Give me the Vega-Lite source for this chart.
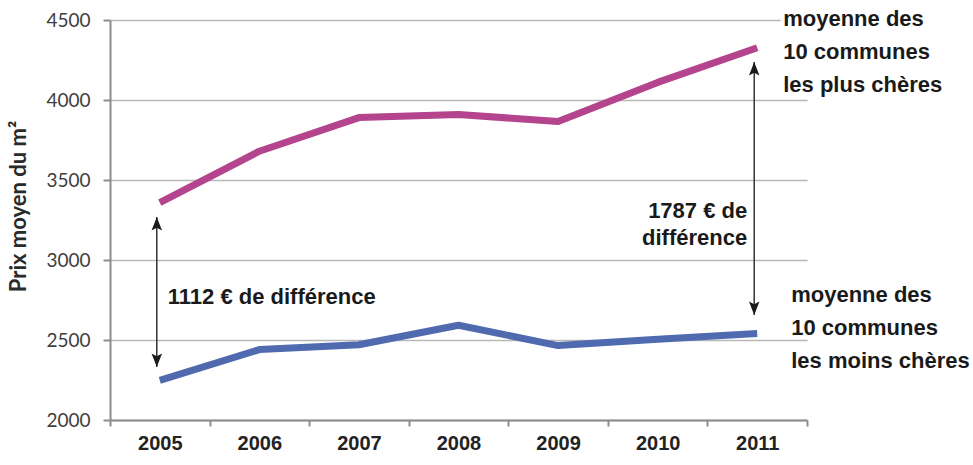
{
  "$schema": "https://vega.github.io/schema/vega-lite/v6.json",
  "width": 697,
  "height": 400,
  "autosize": "none",
  "padding": {"left": 110, "top": 20, "right": 166, "bottom": 45},
  "background": "white",
  "config": {
    "view": {"stroke": null},
    "text": {"font": "Liberation Sans", "fontWeight": "bold", "color": "#1a1a1a"}
  },
  "datasets": {
    "prix": [
      {"annee": "2005", "serie": "plus", "prix": 3358},
      {"annee": "2006", "serie": "plus", "prix": 3680},
      {"annee": "2007", "serie": "plus", "prix": 3890},
      {"annee": "2008", "serie": "plus", "prix": 3910},
      {"annee": "2009", "serie": "plus", "prix": 3865},
      {"annee": "2010", "serie": "plus", "prix": 4110},
      {"annee": "2011", "serie": "plus", "prix": 4327},
      {"annee": "2005", "serie": "moins", "prix": 2248},
      {"annee": "2006", "serie": "moins", "prix": 2440},
      {"annee": "2007", "serie": "moins", "prix": 2470},
      {"annee": "2008", "serie": "moins", "prix": 2592},
      {"annee": "2009", "serie": "moins", "prix": 2465},
      {"annee": "2010", "serie": "moins", "prix": 2505},
      {"annee": "2011", "serie": "moins", "prix": 2540}
    ],
    "fleches": [
      {"annee": "2005", "haut": 3269, "bas": 2331},
      {"annee": "2011", "haut": 4238, "bas": 2656}
    ],
    "notes": [
      {"annee": "2005", "prix": 2804, "texte": "1112 € de différence"},
      {"annee": "2011", "prix": 3433, "texte": "1787 € de\ndifférence"}
    ],
    "legendes": [
      {"annee": "2011", "serie": "plus", "prix": 4327, "texte": "moyenne des\n10 communes\nles plus chères"},
      {"annee": "2011", "serie": "moins", "prix": 2540, "texte": "moyenne des\n10 communes\nles moins chères"}
    ]
  },
  "encoding": {
    "x": {
      "field": "annee", "type": "ordinal",
      "scale": {"type": "band", "paddingInner": 0, "paddingOuter": 0},
      "axis": {
        "title": null, "labelAngle": 0, "tickBand": "extent", "grid": false,
        "domainColor": "#8c8c8c", "domainWidth": 2, "tickColor": "#8c8c8c", "tickWidth": 2, "tickSize": 6,
        "labelFont": "Liberation Sans", "labelFontWeight": "bold", "labelFontSize": 20, "labelColor": "#222222",
        "labelPadding": 7
      }
    },
    "y": {
      "type": "quantitative",
      "scale": {"domain": [2000, 4500], "nice": false, "zero": false},
      "axis": {
        "title": "Prix moyen du m²", "values": [2000, 2500, 3000, 3500, 4000, 4500], "format": "d",
        "titleFont": "Lato", "titleFontWeight": "bold", "titleFontSize": 22, "titleColor": "#2a2a2a",
        "titleX": -92, "titleY": 186, "titleAngle": -90, "titleBaseline": "middle",
        "labelFont": "Lato", "labelFontSize": 19, "labelColor": "#404040", "labelPadding": 13,
        "domainColor": "#8c8c8c", "domainWidth": 2, "tickColor": "#8c8c8c", "tickWidth": 2, "tickSize": 7,
        "gridColor": "#b8b8b8", "gridWidth": 1.5
      }
    }
  },
  "layer": [
    {
      "data": {"name": "prix"},
      "mark": {"type": "line", "strokeWidth": 7, "strokeCap": "butt", "strokeJoin": "round"},
      "encoding": {
        "y": {"field": "prix", "type": "quantitative"},
        "color": {"field": "serie", "type": "nominal", "scale": {"domain": ["plus", "moins"], "range": ["#B3448D", "#4F6AAE"]}, "legend": null}
      }
    },
    {
      "data": {"name": "fleches"},
      "mark": {"type": "rule", "color": "#333333", "strokeWidth": 1.5, "xOffset": -3},
      "encoding": {
        "y": {"field": "haut", "type": "quantitative"},
        "y2": {"field": "bas"}
      }
    },
    {
      "data": {"name": "fleches"},
      "mark": {"type": "point", "filled": true, "color": "#1a1a1a", "opacity": 1, "size": 900, "strokeWidth": 0, "xOffset": -3,
        "shape": "M0,0L0.35,0.9L0,0.72L-0.35,0.9Z"},
      "encoding": {
        "y": {"field": "haut", "type": "quantitative"}
      }
    },
    {
      "data": {"name": "fleches"},
      "mark": {"type": "point", "filled": true, "color": "#1a1a1a", "opacity": 1, "size": 900, "strokeWidth": 0, "xOffset": -3,
        "shape": "M0,0L0.35,-0.9L0,-0.72L-0.35,-0.9Z"},
      "encoding": {
        "y": {"field": "bas", "type": "quantitative"}
      }
    },
    {
      "data": {"name": "notes"},
      "transform": [{"filter": "datum.annee == '2005'"}],
      "mark": {"type": "text", "align": "left", "baseline": "middle", "dx": 8, "dy": 6, "fontSize": 22},
      "encoding": {
        "y": {"field": "prix", "type": "quantitative"},
        "text": {"field": "texte"}
      }
    },
    {
      "data": {"name": "notes"},
      "transform": [{"filter": "datum.annee == '2011'"}],
      "mark": {"type": "text", "align": "right", "baseline": "top", "dx": -10, "dy": 10, "fontSize": 22, "lineBreak": "\n", "lineHeight": 27},
      "encoding": {
        "y": {"field": "prix", "type": "quantitative"},
        "text": {"field": "texte"}
      }
    },
    {
      "data": {"name": "legendes"},
      "transform": [{"filter": "datum.serie == 'plus'"}],
      "mark": {"type": "text", "align": "left", "baseline": "top", "dx": 26, "dy": -39, "fontSize": 22, "lineBreak": "\n", "lineHeight": 33,
        "stroke": "white", "strokeWidth": 8, "strokeJoin": "round"},
      "encoding": {
        "y": {"field": "prix", "type": "quantitative"},
        "text": {"field": "texte"}
      }
    },
    {
      "data": {"name": "legendes"},
      "transform": [{"filter": "datum.serie == 'plus'"}],
      "mark": {"type": "text", "align": "left", "baseline": "top", "dx": 26, "dy": -39, "fontSize": 22, "lineBreak": "\n", "lineHeight": 33},
      "encoding": {
        "y": {"field": "prix", "type": "quantitative"},
        "text": {"field": "texte"}
      }
    },
    {
      "data": {"name": "legendes"},
      "transform": [{"filter": "datum.serie == 'moins'"}],
      "mark": {"type": "text", "align": "left", "baseline": "top", "dx": 34, "dy": -49, "fontSize": 22, "lineBreak": "\n", "lineHeight": 33,
        "stroke": "white", "strokeWidth": 8, "strokeJoin": "round"},
      "encoding": {
        "y": {"field": "prix", "type": "quantitative"},
        "text": {"field": "texte"}
      }
    },
    {
      "data": {"name": "legendes"},
      "transform": [{"filter": "datum.serie == 'moins'"}],
      "mark": {"type": "text", "align": "left", "baseline": "top", "dx": 34, "dy": -49, "fontSize": 22, "lineBreak": "\n", "lineHeight": 33},
      "encoding": {
        "y": {"field": "prix", "type": "quantitative"},
        "text": {"field": "texte"}
      }
    }
  ]
}
